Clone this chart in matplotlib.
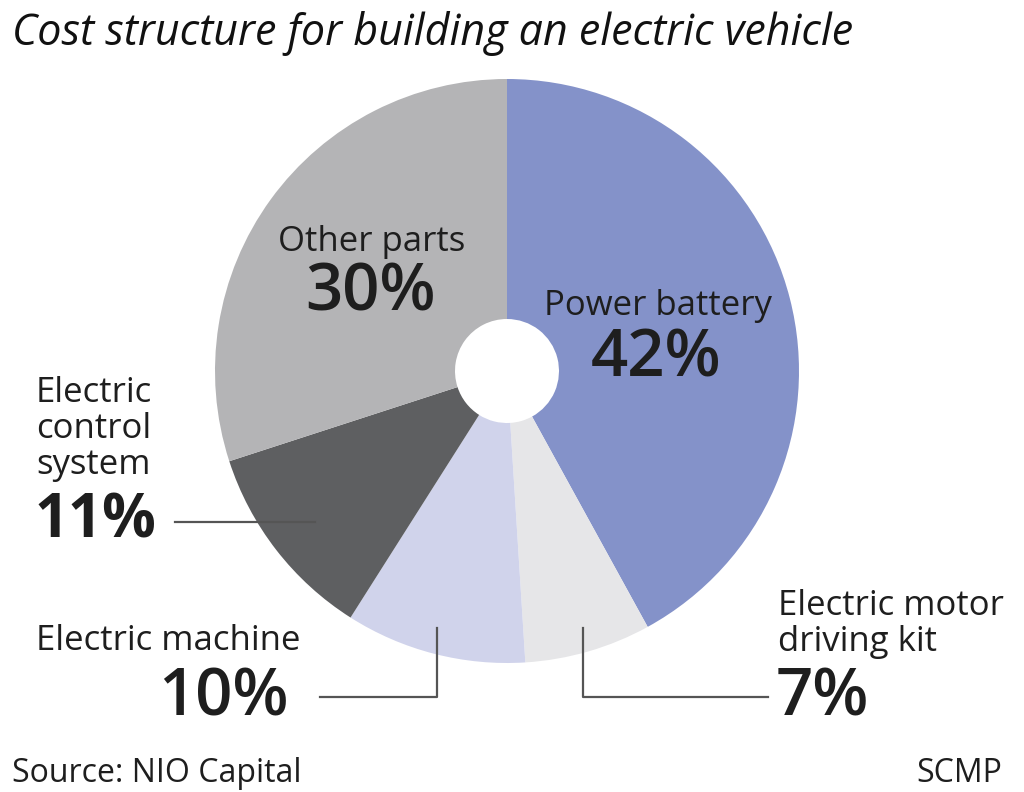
import matplotlib
matplotlib.use("Agg")
import matplotlib.pyplot as plt

labels = ["Power battery", "Electric motor\ndriving kit", "Electric machine",
          "Electric\ncontrol\nsystem", "Other parts"]
shares = [42, 7, 10, 11, 30]
colors = ["#8492C9", "#E6E6E8", "#D0D3EB", "#5E5F61", "#B4B4B6"]

plt.rcParams['font.family'] = ['Open Sans', 'DejaVu Sans']

W, H = 1024, 792
fig = plt.figure(figsize=(W / 100, H / 100), dpi=100)
ax = fig.add_axes([0, 0, 1, 1])

def py(y):
    # pixel row (from top) -> data y
    return H - y

cx, cy, r, hole = 507, py(371), 292, 52
ax.pie(shares, colors=colors, startangle=90, counterclock=False,
       center=(cx, cy), radius=r, frame=True,
       wedgeprops=dict(width=r - hole, linewidth=0))
ax.set_xlim(0, W)
ax.set_ylim(0, H)
ax.set_aspect('equal')
ax.axis('off')

txt = "#1e1e1e"
lab_fs, pct_fs = 25, 47
pct_w = 'semibold'

# inside labels
ax.text(372, py(242), labels[4], ha='center', va='center', fontsize=lab_fs, color=txt)
ax.text(370, py(294), f"{shares[4]}%", ha='center', va='center', fontsize=pct_fs,
        fontweight=pct_w, color=txt)
ax.text(658, py(306), labels[0], ha='center', va='center', fontsize=lab_fs, color=txt)
ax.text(656, py(360), f"{shares[0]}%", ha='center', va='center', fontsize=pct_fs,
        fontweight=pct_w, color=txt)

# outside labels
ax.text(36, py(429), labels[3], ha='left', va='center', fontsize=lab_fs, color=txt,
        linespacing=1.08)
ax.text(34, py(522), f"{shares[3]}%", ha='left', va='center', fontsize=pct_fs - 4,
        fontweight='bold', color=txt)
ax.text(36, py(641), labels[2], ha='left', va='center', fontsize=lab_fs, color=txt)
ax.text(158, py(699), f"{shares[2]}%", ha='left', va='center', fontsize=pct_fs,
        fontweight=pct_w, color=txt)
ax.text(778, py(624), labels[1], ha='left', va='center', fontsize=lab_fs, color=txt,
        linespacing=1.08)
ax.text(776, py(699), f"{shares[1]}%", ha='left', va='center', fontsize=pct_fs,
        fontweight=pct_w, color=txt)

# leader lines
lc = "#555555"
ax.plot([175, 315], [py(522), py(522)], color=lc, lw=1.6)
ax.plot([320, 437, 437], [py(697), py(697), py(628)], color=lc, lw=1.6)
ax.plot([583, 583, 768], [py(628), py(697), py(697)], color=lc, lw=1.6)

# title and footer
ax.text(12, py(34), "Cost structure for building an electric vehicle", ha='left',
        va='center', fontsize=31, fontstyle='italic', color="#111111")
ax.text(12, py(773), "Source: NIO Capital", ha='left', va='center', fontsize=23, color=txt)
ax.text(1002, py(773), "SCMP", ha='right', va='center', fontsize=23, color=txt)

fig.savefig("out.png", dpi=100, facecolor='white')
